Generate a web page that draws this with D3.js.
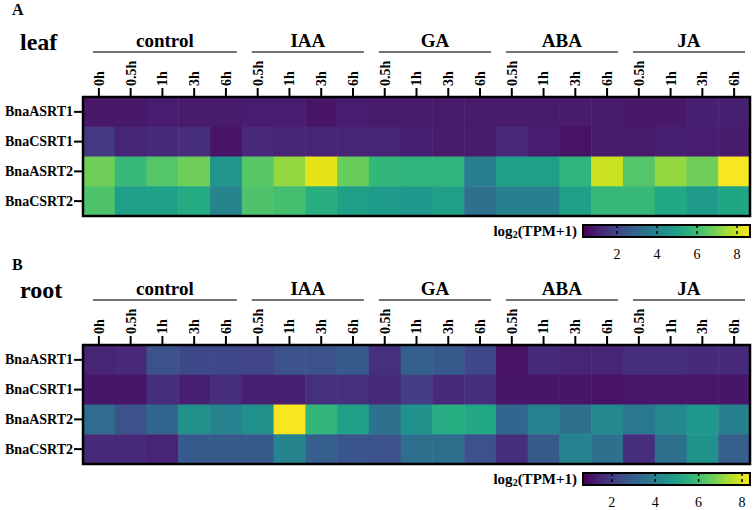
<!DOCTYPE html>
<html>
<head>
<meta charset="utf-8">
<script src="https://cdn.jsdelivr.net/npm/d3@7"></script>
<style>
  body { margin: 0; background: #fff; }
  text { font-family: "Liberation Serif", "Times New Roman", serif; }
</style>
</head>
<body>
<svg id="vec" width="755" height="510"></svg>
<script>
const genes = ["BnaASRT1", "BnaCSRT1", "BnaASRT2", "BnaCSRT2"];
const groups = ["control", "IAA", "GA", "ABA", "JA"];
const controlTimes = ["0h", "0.5h", "1h", "3h", "6h"];
const treatTimes = ["0.5h", "1h", "3h", "6h"];
const legendTicks = [2, 4, 6, 8];

// log2(TPM+1), one row per gene, 21 columns (control x5, then 4 per hormone)
const leafASRT1 = [0.85,0.85,0.97,0.90,0.90,0.97,0.97,0.75,0.97,0.90,0.90,0.90,0.90,0.90,0.90,0.90,0.90,0.85,0.85,1.05,1.05];
const leafCSRT1 = [1.72,1.14,1.30,1.39,0.75,1.22,1.14,1.14,1.14,1.14,1.05,0.90,0.90,1.22,0.97,0.72,0.90,0.90,1.05,0.97,0.90];
const leafASRT2 = [6.81,5.89,6.40,6.81,4.64,6.48,7.31,8.32,6.73,5.81,5.73,5.73,3.81,4.98,4.98,5.73,7.98,6.40,7.31,6.81,8.57];
const leafCSRT2 = [6.31,4.98,5.06,5.39,4.06,6.31,6.15,5.56,4.98,4.89,4.73,4.98,3.39,3.89,3.89,4.98,5.89,5.89,5.31,4.89,5.23];

const rootASRT1 = [1.44,1.52,2.60,2.36,2.36,2.21,2.60,2.60,2.83,1.75,2.98,2.83,2.36,1.05,1.59,1.44,1.44,1.67,1.67,1.59,1.59];
const rootCSRT1 = [1.10,1.10,1.67,1.36,1.67,1.36,1.36,1.75,1.75,1.59,2.06,1.59,1.67,1.10,1.10,1.10,1.05,1.15,1.15,1.15,1.10];
const rootASRT2 = [3.37,2.60,3.21,4.52,4.06,4.52,8.29,5.75,5.06,3.52,4.52,5.44,5.29,3.21,4.06,3.52,4.29,3.75,4.29,4.75,3.98];
const rootCSRT2 = [1.59,1.59,1.44,2.83,2.83,2.83,4.14,2.98,2.67,2.60,3.44,3.44,2.60,1.67,2.83,4.06,3.52,1.67,3.44,4.60,2.98];

const leafRange = [0.3, 8.65];
const rootRange = [0.67, 8.37];

// column list built from the groups
const columns = [];
groups.forEach(g => {
  const times = g === "control" ? controlTimes : treatTimes;
  times.forEach(t => columns.push({ group: g, time: t, id: g + "_" + t }));
});

const svg = d3.select("#vec");
const left = 83, right = 750, heatH = 119;

function drawPanel(letter, tissue, rows, range, top, letterY) {
  const x = d3.scaleBand().domain(columns.map(c => c.id)).range([left, right]);
  const y = d3.scaleBand().domain(genes).range([top, top + heatH]);
  const color = d3.scaleSequential(d3.interpolateViridis).domain(range);

  const cells = [];
  rows.forEach((vals, gi) => vals.forEach((v, ci) => cells.push({ gene: genes[gi], col: columns[ci].id, value: v })));

  const g = svg.append("g");

  g.append("text").attr("x", 12).attr("y", letterY)
    .attr("font-weight", "bold").attr("font-size", 16).text(letter);
  g.append("text").attr("x", 20).attr("y", top - 47)
    .attr("font-weight", "bold").attr("font-size", 24).text(tissue);

  // treatment groups with lines
  groups.forEach(gr => {
    const ids = columns.filter(c => c.group === gr).map(c => c.id);
    const x0 = x(ids[0]) + 10, x1 = x(ids[ids.length - 1]) + x.bandwidth() - 5;
    g.append("line").attr("x1", x0).attr("x2", x1)
      .attr("y1", top - 45).attr("y2", top - 45)
      .attr("stroke", "#444").attr("stroke-width", 1.5);
    g.append("text").attr("x", (x0 + x1) / 2).attr("y", top - 50)
      .attr("text-anchor", "middle").attr("font-weight", "bold")
      .attr("font-size", 19).text(gr);
  });

  g.selectAll("rect.cell").data(cells).enter().append("rect")
    .attr("class", "cell")
    .attr("x", d => x(d.col)).attr("y", d => y(d.gene))
    .attr("width", x.bandwidth() + 0.5).attr("height", y.bandwidth() + 0.5)
    .attr("fill", d => color(d.value));

  g.append("rect").attr("x", left).attr("y", top)
    .attr("width", right - left).attr("height", heatH)
    .attr("fill", "none").attr("stroke", "#000").attr("stroke-width", 2.5);

  const xAxis = g.append("g").attr("transform", `translate(0, ${top})`)
    .call(d3.axisTop(x).tickSize(9).tickSizeOuter(0).tickFormat(id => columns.find(c => c.id === id).time));
  xAxis.select(".domain").remove();
  xAxis.selectAll(".tick line").attr("stroke", "#000").attr("stroke-width", 2);
  xAxis.selectAll(".tick text")
    .attr("transform", "rotate(-90)")
    .attr("x", 11).attr("y", 0).attr("dy", "0.35em")
    .attr("text-anchor", "start")
    .attr("font-family", "Liberation Serif, Times New Roman, serif")
    .attr("font-weight", "bold").attr("font-size", 14).attr("fill", "#000");

  const yAxis = g.append("g").attr("transform", `translate(${left}, 0)`)
    .call(d3.axisLeft(y).tickSize(9).tickSizeOuter(0));
  yAxis.select(".domain").remove();
  yAxis.selectAll(".tick line").attr("stroke", "#000").attr("stroke-width", 2);
  yAxis.selectAll(".tick text")
    .attr("x", -10)
    .attr("font-family", "Liberation Serif, Times New Roman, serif")
    .attr("font-weight", "bold").attr("font-size", 14).attr("fill", "#000");

  // colour legend
  const lx = d3.scaleLinear().domain(range).range([583, 750]);
  const ly = top + 128, lh = 12;
  const gradId = "grad" + letter;
  const grad = svg.append("defs").append("linearGradient").attr("id", gradId);
  d3.range(0, 1.001, 0.1).forEach(t => {
    grad.append("stop").attr("offset", t).attr("stop-color", d3.interpolateViridis(t));
  });
  g.append("rect").attr("x", 583).attr("y", ly).attr("width", 167).attr("height", lh)
    .attr("fill", `url(#${gradId})`).attr("stroke", "#000").attr("stroke-width", 2);
  g.selectAll("line.lt").data(legendTicks).enter().append("line")
    .attr("x1", d => lx(d)).attr("x2", d => lx(d))
    .attr("y1", ly).attr("y2", ly + lh)
    .attr("stroke", "#000").attr("stroke-width", 1.5).attr("stroke-dasharray", "3,3");
  g.selectAll("text.ll").data(legendTicks).enter().append("text")
    .attr("x", d => lx(d)).attr("y", ly + 34)
    .attr("text-anchor", "middle").attr("font-size", 14).text(d => d);
  const lab = g.append("text").attr("x", 577).attr("y", ly + 11)
    .attr("text-anchor", "end").attr("font-weight", "bold").attr("font-size", 15);
  lab.append("tspan").text("log");
  lab.append("tspan").attr("font-size", 10).attr("dy", 2).text("2");
  lab.append("tspan").attr("dy", -2).text("(TPM+1)");
}

drawPanel("A", "leaf", [leafASRT1, leafCSRT1, leafASRT2, leafCSRT2], leafRange, 97, 15);
drawPanel("B", "root", [rootASRT1, rootCSRT1, rootASRT2, rootCSRT2], rootRange, 345, 270);
</script>
</body>
</html>
